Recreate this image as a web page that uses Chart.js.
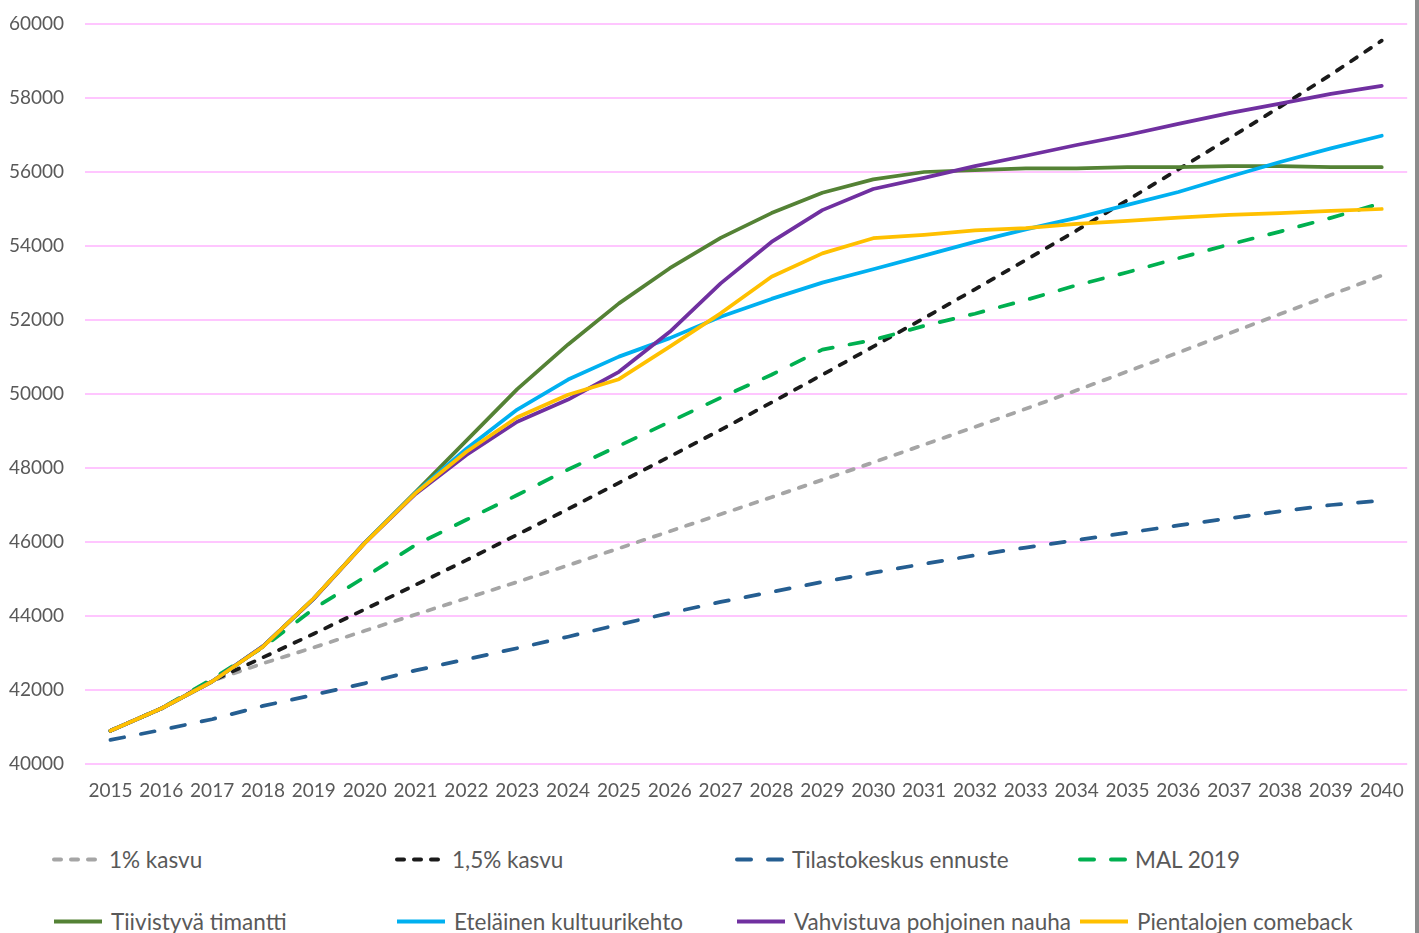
<!DOCTYPE html>
<html>
<head>
<meta charset="utf-8">
<title>Väestöskenaariot</title>
<script src="https://cdn.jsdelivr.net/npm/chart.js"></script>
<style>
  body { margin: 0; background: #fff; font-family: Lato, "Noto Sans", sans-serif; }
  #wrap { position: relative; width: 1419px; height: 933px; overflow: hidden; background: #fff; }
  #myChart { position: absolute; left: 0; top: 0; }
  .item { position: absolute; display: flex; align-items: center; color: #595959; font-size: 22.5px; white-space: nowrap; transform: translateY(-50%); }
  .item svg { margin-right: 7px; }
  #edge { position: absolute; left: 1415px; top: 0; width: 4px; height: 933px; background: #8c8c8c; }
</style>
</head>
<body>
<div id="wrap">
  <canvas id="myChart" width="1419" height="810"></canvas>
  <div id="legend"></div>
  <div id="edge"></div>
</div>
<script>
// vuodet
const vuodet = ['2015','2016','2017','2018','2019','2020','2021','2022','2023','2024','2025','2026','2027',
  '2028','2029','2030','2031','2032','2033','2034','2035','2036','2037','2038','2039','2040'];

const yTicks = [40000, 60000, 2000]; // min, max, step

const kasvu1 = [40900, 41500, 42250, 42720, 43150, 43600, 44040, 44480, 44920, 45370, 45830, 46290, 46750,
  47210, 47680, 48150, 48630, 49110, 49600, 50100, 50610, 51120, 51640, 52160, 52680, 53200];
const kasvu15 = [40900, 41500, 42250, 42880, 43520, 44180, 44840, 45510, 46200, 46890, 47600, 48310, 49030,
  49770, 50520, 51280, 52050, 52830, 53620, 54420, 55240, 56070, 56910, 57760, 58630, 59550];
const tilastokeskus = [40650, 40920, 41210, 41570, 41870, 42180, 42530, 42830, 43130, 43440, 43770, 44080, 44380,
  44650, 44920, 45170, 45410, 45640, 45850, 46050, 46250, 46450, 46640, 46830, 47000, 47120];
const mal2019 = [40900, 41500, 42300, 43150, 44200, 45050, 45920, 46600, 47270, 47960, 48600, 49250, 49900,
  50520, 51200, 51460, 51840, 52170, 52540, 52940, 53290, 53670, 54040, 54390, 54760, 55160];
const timantti = [40900, 41500, 42230, 43180, 44470, 45980, 47350, 48740, 50130, 51340, 52450, 53400, 54220,
  54890, 55440, 55800, 56000, 56050, 56100, 56100, 56130, 56130, 56160, 56160, 56130, 56130];
const kultuurikehto = [40900, 41500, 42230, 43180, 44470, 45980, 47330, 48520, 49580, 50390, 51010, 51510, 52090,
  52570, 53010, 53370, 53740, 54110, 54450, 54760, 55110, 55460, 55870, 56270, 56640, 56980];
const nauha = [40900, 41500, 42230, 43180, 44470, 45970, 47300, 48350, 49250, 49850, 50600, 51680, 52990,
  54110, 54970, 55540, 55840, 56160, 56440, 56730, 57000, 57300, 57590, 57850, 58110, 58330];
const comeback = [40900, 41500, 42230, 43170, 44480, 45970, 47320, 48440, 49370, 49980, 50400, 51280, 52180,
  53170, 53800, 54210, 54300, 54420, 54480, 54600, 54680, 54770, 54840, 54890, 54950, 55000];

const nimet = ['1% kasvu', '1,5% kasvu', 'Tilastokeskus ennuste', 'MAL 2019',
  'Tiivistyvä timantti', 'Eteläinen kultuurikehto', 'Vahvistuva pohjoinen nauha', 'Pientalojen comeback'];
const sarjat = [kasvu1, kasvu15, tilastokeskus, mal2019, timantti, kultuurikehto, nauha, comeback];
const varit = ['#A5A5A5', '#1a1a1a', '#255E91', '#00B050', '#548235', '#00B0F0', '#7030A0', '#FFC000'];
const viivat = [[7, 10], [7, 10], [14, 17], [14, 17], [], [], [], []];

var ctx = document.getElementById('myChart').getContext('2d');

var datasets = sarjat.map((s, i) => ({
  label: nimet[i],
  data: s,
  borderColor: varit[i],
  backgroundColor: varit[i],
  borderWidth: 3.75,
  borderDash: viivat[i],
  borderCapStyle: 'round',
  borderJoinStyle: 'round',
  pointRadius: 0,
  tension: 0,
  fill: false,
  order: sarjat.length - i   // viimeinen sarja päällimmäiseksi kuten Excelissä
}));

var myChart = new Chart(ctx, {
  type: 'line',
  data: { labels: vuodet, datasets: datasets },
  options: {
    responsive: false,
    animation: false,
    devicePixelRatio: 1,
    layout: { padding: { top: 24, right: 11, left: 0, bottom: 0 } },
    plugins: {
      legend: { display: false },
      tooltip: { enabled: false }
    },
    scales: {
      x: {
        offset: true,
        grid: { display: false, drawTicks: false },
        border: { display: false },
        ticks: {
          autoSkip: false, maxRotation: 0, padding: 15,
          color: '#595959', font: { family: 'Lato', size: 19 }
        },
        afterFit: function (scale) { scale.height = 46; }
      },
      y: {
        min: yTicks[0],
        max: yTicks[1],
        grid: { color: '#ffc6ff', lineWidth: 2, drawTicks: false },
        border: { display: false },
        ticks: {
          stepSize: yTicks[2], padding: 21,
          color: '#595959', font: { family: 'Lato', size: 19 },
          callback: function (v) { return String(v); }
        },
        afterFit: function (scale) {
          scale.width = 85;
          scale.paddingTop = 0;
          scale.paddingBottom = 0;
        }
      }
    }
  }
});

// selite HTML:nä
const sarakkeet = [52, 395, 735, 1078];
const rivit = [859, 921];
var legend = document.getElementById('legend');
myChart.data.datasets.forEach((ds, i) => {
  let el = document.createElement('div');
  el.className = 'item';
  el.style.left = sarakkeet[i % 4] + 'px';
  el.style.top = rivit[Math.floor(i / 4)] + 'px';
  let dash = ds.borderDash.length ? ds.borderDash.join(' ') : 'none';
  let w = ds.borderDash.length ? 50 : 52;
  el.innerHTML = '<svg width="' + w + '" height="10"><line x1="2" y1="5" x2="' + (w - 2) + '" y2="5" stroke="' + ds.borderColor +
    '" stroke-width="4" stroke-linecap="' + (ds.borderDash.length ? 'round' : 'butt') + '" stroke-dasharray="' + dash + '"/></svg>' +
    '<span>' + ds.label + '</span>';
  legend.appendChild(el);
});
</script>
</body>
</html>
